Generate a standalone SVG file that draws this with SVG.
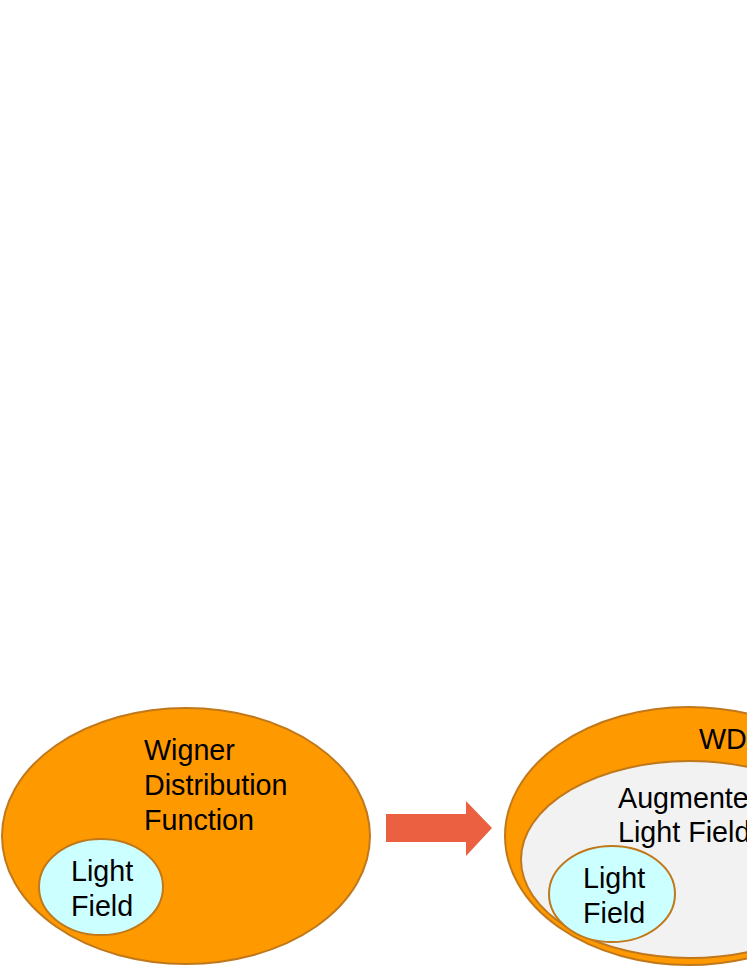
<svg xmlns="http://www.w3.org/2000/svg" width="747" height="967" viewBox="0 0 747 967">
<style>
.wdf{fill:#FF9900;stroke:#C0781A;stroke-width:2}
.alf{fill:#F2F2F2;stroke:#C0781A;stroke-width:2}
.lf{fill:#CCFFFF;stroke:#C0781A;stroke-width:2}
text{font-family:"Liberation Sans",Arial,sans-serif;font-size:28.7px;fill:#000}
</style>
<rect width="747" height="967" fill="#FFFFFF"/>
<g id="wdf-left">
<ellipse class="wdf" cx="186" cy="836" rx="184" ry="128"/>
<text x="144" y="760">Wigner</text>
<text x="144" y="795">Distribution</text>
<text x="144" y="830">Function</text>
</g>
<g id="lf-left">
<ellipse class="lf" cx="101" cy="887" rx="62" ry="48"/>
<text x="71" y="881">Light</text>
<text x="71" y="916">Field</text>
</g>
<g id="connectors">
<polygon points="386,814 466,814 466,801 492,828 466,856 466,842 386,842" fill="#EA6040"/>
</g>
<g id="wdf-right">
<ellipse class="wdf" cx="689" cy="836" rx="184" ry="129"/>
<text x="699" y="749">WDF</text>
</g>
<g id="alf-right">
<ellipse class="alf" cx="690" cy="859.5" rx="169" ry="98.5"/>
<text x="618" y="808">Augmented</text>
<text x="618" y="842">Light Field</text>
</g>
<g id="lf-right">
<ellipse class="lf" cx="612" cy="894" rx="63" ry="48"/>
<text x="583" y="888">Light</text>
<text x="583" y="923">Field</text>
</g>
</svg>
